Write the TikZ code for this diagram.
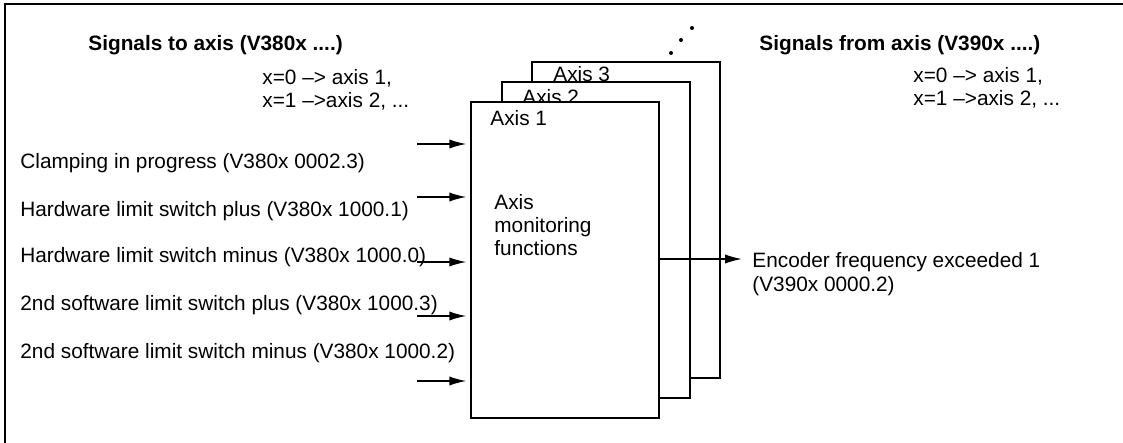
\documentclass[tikz,border=0pt]{standalone}
\usepackage{fontspec}
\setmainfont{Liberation Sans}
\usetikzlibrary{arrows.meta,positioning}

\tikzset{
    axisbox/.style={draw, line width=0.7pt, fill=white, minimum width=94pt, minimum height=158pt, inner sep=0pt},
    sig/.style={anchor=west, inner sep=0pt, align=left},
    heading/.style={sig, font=\fontsize{10.4}{11.7}\selectfont\bfseries},
    sigarrow/.style={line width=0.7pt, -{Latex[length=8.5pt,width=4.6pt]}}
}

\begin{document}
\begin{tikzpicture}[x=0.5pt, y=-0.5pt, font=\fontsize{10.4}{11.7}\selectfont]
    \useasboundingbox (0,0) rectangle (1123,443);
    % frame
    \draw[line width=1pt] (5,443) -- (5,4) -- (1123,4);

    % headings
    \node[heading] (toaxis) at (88,45) {Signals to axis (V380x ....)};
    \node[sig] (tokey) at (262,90) {x=0 –> axis 1,\\x=1 –>axis 2, ...};
    \node[heading] (fromaxis) at (759,45) {Signals from axis (V390x ....)};
    \node[sig] (fromkey) at (913,88) {x=0 –> axis 1,\\x=1 –>axis 2, ...};

    % stacked axis boxes
    \node[axisbox] (ax3) at (626,220) {};
    \node[sig] (ax3lbl) at (553,74) {Axis 3};
    \node[axisbox] (ax2) at (596,240) {};
    \node[sig] (ax2lbl) at (522,97) {Axis 2};
    \node[axisbox] (ax1) at (565,260) {};
    \node[sig] (ax1lbl) at (490,118) {Axis 1};
    \node[sig] (mon) at (494,225) {Axis\\monitoring\\functions};

    \foreach \p in {(671,53),(681,40),(692,28)}
        \fill \p circle (1pt);

    % inputs
    \node[sig] (clamp) at (20,163) {Clamping in progress (V380x 0002.3)};
    \node[sig] (hwplus) at (20,211) {Hardware limit switch plus (V380x 1000.1)};
    \node[sig] (hwminus) at (20,257) {Hardware limit switch minus (V380x 1000.0)};
    \node[sig] (swplus) at (20,305) {2nd software limit switch plus (V380x 1000.3)};
    \node[sig] (swminus) at (20,353) {2nd software limit switch minus (V380x 1000.2)};

    \foreach \y [count=\i] in {144,197,262,316,381} {
        \coordinate (in\i) at (417,\y);
        \draw[sigarrow, shorten >=2pt] (in\i) -- (in\i -| ax1.west);
    }

    % output
    \coordinate (out) at (742,259);
    \draw[sigarrow] (out -| ax1.east) -- (out);
    \node[sig] (enc) at (752,274) {Encoder frequency exceeded 1\\(V390x 0000.2)};
\end{tikzpicture}
\end{document}
